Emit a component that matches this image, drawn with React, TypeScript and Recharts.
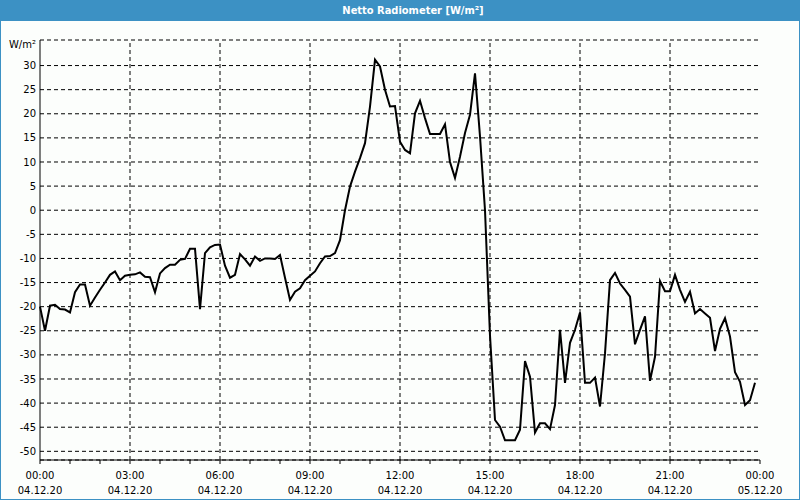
import React from 'react';
import {
  LineChart,
  Line,
  XAxis,
  YAxis,
  CartesianGrid,
  ReferenceLine,
} from 'recharts';

// minutes since 04.12.20 00:00
const minutes: number[] = [
  0, 10, 20, 30, 40, 50, 60, 70, 80, 90,
  100, 110, 120, 130, 140, 150, 160, 170, 180, 190,
  200, 210, 220, 230, 240, 250, 260, 270, 280, 290,
  300, 310, 320, 330, 340, 350, 360, 370, 380, 390,
  400, 410, 420, 430, 440, 450, 460, 470, 480, 490,
  500, 510, 520, 530, 540, 550, 560, 570, 580, 590,
  600, 610, 620, 630, 640, 650, 660, 670, 680, 690,
  700, 710, 720, 730, 740, 750, 760, 770, 780, 790,
  800, 810, 820, 830, 840, 850, 860, 870, 880, 890,
  900, 910, 920, 930, 940, 950, 960, 970, 980, 990,
  1000, 1010, 1020, 1030, 1040, 1050, 1060, 1070, 1080, 1090,
  1100, 1110, 1120, 1130, 1140, 1150, 1160, 1170, 1180, 1190,
  1200, 1210, 1220, 1230, 1240, 1250, 1260, 1270, 1280, 1290,
  1300, 1310, 1320, 1330, 1340, 1350, 1360, 1370, 1380, 1390,
  1400, 1410, 1420, 1430,
];

// Netto radiation W/m²
const netto: number[] = [
  -20, -25, -19.8, -19.6, -20.5, -20.6, -21.2, -17, -15.4, -15.4,
  -19.8, -18.1, -16.5, -15, -13.4, -12.7, -14.5, -13.6, -13.4, -13.3,
  -12.9, -13.8, -13.9, -17, -13.1, -12, -11.3, -11.3, -10.3, -10.1,
  -8, -8, -20.5, -8.9, -7.7, -7.2, -7.1, -11.5, -14, -13.4,
  -9.1, -10.2, -11.5, -9.6, -10.5, -10, -10, -10.1, -9.3, -14,
  -18.6, -16.9, -16.2, -14.5, -13.6, -12.7, -11, -9.6, -9.5, -8.9,
  -6.2, 0, 4.9, 8, 10.8, 13.9, 21.5, 31.2, 29.8, 25,
  21.5, 21.6, 14.2, 12.5, 11.8, 20.1, 22.7, 19.1, 15.8, 15.8,
  15.8, 17.8, 10, 6.7, 11.1, 16, 19.8, 28.4, 15.3, 0,
  -26, -43.5, -44.9, -47.7, -47.7, -47.7, -45.5, -31.3, -34.5, -46.1,
  -44.2, -44.2, -45.4, -40.4, -24.8, -35.8, -27.5, -24.8, -21.2, -35.8,
  -35.8, -34.7, -40.7, -29.7, -14.5, -13, -15.2, -16.5, -17.9, -27.8,
  -24.8, -22, -35.4, -30.4, -14.7, -16.8, -16.8, -13.4, -16.5, -19,
  -16.9, -21.4, -20.5, -21.4, -22.3, -29.2, -24.6, -22.4, -26.2, -33.6,
  -35.6, -40.4, -39.4, -35.8,
];

const hourTicks: number[] = Array.from({ length: 25 }, (_, i) => i * 60);
const gridMinutes: number[] = [180, 360, 540, 720, 900, 1080, 1260];
const yTicks: number[] = [-50, -45, -40, -35, -30, -25, -20, -15, -10, -5, 0, 5, 10, 15, 20, 25, 30];
const timeLabels: Record<number, [string, string]> = {
  0: ['00:00', '04.12.20'],
  180: ['03:00', '04.12.20'],
  360: ['06:00', '04.12.20'],
  540: ['09:00', '04.12.20'],
  720: ['12:00', '04.12.20'],
  900: ['15:00', '04.12.20'],
  1080: ['18:00', '04.12.20'],
  1260: ['21:00', '04.12.20'],
  1440: ['00:00', '05.12.20'],
};

const chartData = minutes.map((m, i) => ({ t: m, value: netto[i] }));

const FONT = '"DejaVu Sans", Verdana, sans-serif';

function TimeTick(props: any) {
  const { x, y, payload } = props;
  const lbl = timeLabels[payload.value];
  if (!lbl) return null;
  return (
    <g>
      <text x={x} y={y + 13} textAnchor="middle" fontSize={10} fill="#000" fontFamily={FONT}>
        {lbl[0]}
      </text>
      <text x={x} y={y + 28} textAnchor="middle" fontSize={10} fill="#000" fontFamily={FONT}>
        {lbl[1]}
      </text>
    </g>
  );
}

export default function App() {
  return (
    <div
      style={{
        position: 'absolute',
        left: 0,
        top: 0,
        width: 800,
        height: 500,
        background: '#fcfefc',
        fontFamily: FONT,
      }}
    >
      <div
        style={{
          position: 'absolute',
          left: 0,
          top: 0,
          width: 800,
          height: 21,
          background: '#3c91c4',
          color: '#fff',
          fontWeight: 'bold',
          fontSize: 11,
          lineHeight: '21px',
          textAlign: 'center',
          fontFamily: '"DejaVu Sans Condensed", "Liberation Sans", sans-serif',
        }}
      >
        <span style={{ position: 'relative', left: 13 }}>Netto Radiometer [W/m²]</span>
      </div>
      <div
        style={{
          position: 'absolute',
          right: 764,
          top: 39,
          fontSize: 10,
          color: '#000',
          whiteSpace: 'nowrap',
        }}
      >
        W/m²
      </div>
      <div style={{ position: 'absolute', left: 0, top: 0 }}>
        <LineChart
          width={800}
          height={500}
          data={chartData}
          margin={{ top: 40, right: 40, left: 0, bottom: 0 }}
        >
          <CartesianGrid
            vertical={false}
            stroke="#000"
            strokeDasharray="4 3"
          />
          <XAxis
            dataKey="t"
            type="number"
            domain={[0, 1440]}
            ticks={hourTicks}
            interval={0}
            stroke="#000"
            tickSize={4}
            height={40}
            tick={<TimeTick />}
          />
          <XAxis
            xAxisId="top"
            orientation="top"
            type="number"
            domain={[0, 1440]}
            tick={false}
            tickLine={false}
            stroke="#000"
            height={0}
          />
          <YAxis
            type="number"
            domain={[-51.8, 35.3]}
            ticks={yTicks}
            interval={0}
            allowDataOverflow
            width={40}
            stroke="#000"
            tickLine={false}
            tickSize={0}
            tickMargin={4}
            tick={{ fill: '#000', fontSize: 10, fontFamily: FONT }}
          />
          <YAxis
            yAxisId="right"
            orientation="right"
            type="number"
            domain={[-51.8, 35.3]}
            tick={false}
            tickLine={false}
            stroke="#000"
            width={0}
          />
          {gridMinutes.map((m) => (
            <ReferenceLine key={m} x={m} stroke="#000" strokeDasharray="4 3" />
          ))}
          <Line
            type="linear"
            dataKey="value"
            stroke="#000"
            strokeWidth={2}
            dot={false}
            isAnimationActive={false}
          />
        </LineChart>
      </div>
      <div
        style={{
          position: 'absolute',
          left: 0,
          top: 0,
          width: 800,
          height: 500,
          boxSizing: 'border-box',
          border: '1px solid #3c91c4',
          pointerEvents: 'none',
        }}
      />
    </div>
  );
}
